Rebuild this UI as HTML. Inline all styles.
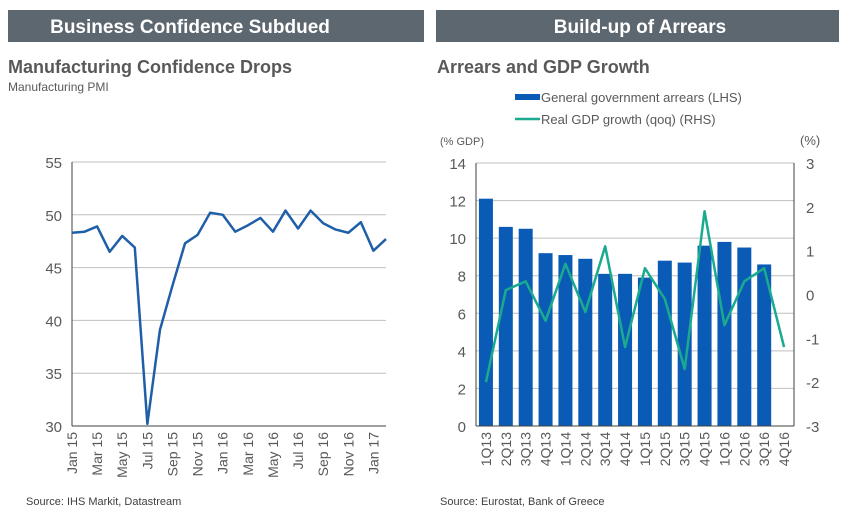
<!DOCTYPE html>
<html><head><meta charset="utf-8"><style>
body{margin:0;background:#fff;width:846px;height:517px;overflow:hidden;font-family:"Liberation Sans",sans-serif}
svg{display:block}
</style></head><body>
<svg id="s" width="846" height="517" xmlns="http://www.w3.org/2000/svg">
<rect x="8" y="10" width="416" height="32" fill="#5d6770"/>
<text x="190" y="33" text-anchor="middle" font-size="19" font-weight="bold" fill="#fff">Business Confidence Subdued</text>
<rect x="436" y="10" width="403" height="32" fill="#5d6770"/>
<text x="640" y="33" text-anchor="middle" font-size="19" font-weight="bold" fill="#fff">Build-up of Arrears</text>
<text x="8" y="73" font-size="18" font-weight="bold" fill="#595959">Manufacturing Confidence Drops</text>
<text x="8" y="91" font-size="12" fill="#595959">Manufacturing PMI</text>
<text x="437" y="73" font-size="18" font-weight="bold" fill="#595959">Arrears and GDP Growth</text>
<rect x="515" y="94" width="25" height="6" fill="#0a5bb5"/>
<text x="541" y="102" font-size="13" fill="#595959">General government arrears (LHS)</text>
<line x1="515" y1="119" x2="540" y2="119" stroke="#1aaa8f" stroke-width="2.5"/>
<text x="541" y="124" font-size="13" fill="#595959">Real GDP growth (qoq) (RHS)</text>
<text x="440" y="145" font-size="11" fill="#595959">(% GDP)</text>
<text x="800" y="145" font-size="13" fill="#595959">(%)</text>
<text x="26" y="505" font-size="11" fill="#404040">Source: IHS Markit, Datastream</text>
<text x="440" y="505" font-size="11" fill="#404040">Source: Eurostat, Bank of Greece</text>
<g id="L"></g><g id="R"></g>
</svg>
<script>
const pmiMonths=["Jan 15","Feb 15","Mar 15","Apr 15","May 15","Jun 15","Jul 15","Aug 15","Sep 15","Oct 15","Nov 15","Dec 15","Jan 16","Feb 16","Mar 16","Apr 16","May 16","Jun 16","Jul 16","Aug 16","Sep 16","Oct 16","Nov 16","Dec 16","Jan 17","Feb 17"];
const pmiValues=[48.3,48.4,48.9,46.5,48.0,46.9,30.2,39.1,43.3,47.3,48.1,50.2,50.0,48.4,49.0,49.7,48.4,50.4,48.7,50.4,49.2,48.6,48.3,49.3,46.6,47.7];
const pmiTicks=[30,35,40,45,50,55];
const quarters=["1Q13","2Q13","3Q13","4Q13","1Q14","2Q14","3Q14","4Q14","1Q15","2Q15","3Q15","4Q15","1Q16","2Q16","3Q16","4Q16"];
const arrears=[12.1,10.6,10.5,9.2,9.1,8.9,8.1,8.1,7.9,8.8,8.7,9.6,9.8,9.5,8.6,null];
const gdpGrowth=[-2.0,0.1,0.3,-0.6,0.7,-0.4,1.1,-1.2,0.6,-0.1,-1.7,1.9,-0.7,0.3,0.6,-1.2];
const leftTicks=[0,2,4,6,8,10,12,14];
const rightTicks=[-3,-2,-1,0,1,2,3];
const NS="http://www.w3.org/2000/svg";
function mk(p,t,a,txt){const e=document.createElementNS(NS,t);for(const k in a)e.setAttribute(k,a[k]);if(txt!=null)e.textContent=txt;p.appendChild(e);return e;}
const L=document.getElementById('L');
const lx0=72,lx1=386,ly0=426,ly1=162;
const lx=i=>lx0+i*(lx1-lx0)/(pmiMonths.length-1);
const ly=v=>ly0-(v-30)/25*(ly0-ly1);
pmiTicks.forEach(t=>{
 if(t>30){const g=mk(L,'line',{x1:lx0,x2:lx1,y1:ly(t),y2:ly(t),stroke:'#bfbfbf','stroke-width':1});
 
 }
 const tx=mk(L,'text',{x:lx0-10,y:ly(t)+6,'text-anchor':'end','font-size':15,fill:'#595959'},t);
 
 
});
let a1=mk(L,'line',{x1:lx0,x2:lx0,y1:ly1,y2:ly0,stroke:'#404040'});

let a2=mk(L,'line',{x1:lx0,x2:lx1,y1:ly0,y2:ly0,stroke:'#404040'});

pmiMonths.forEach((m,i)=>{if(i%2)return;
 const x=lx(i);const t=mk(L,'text',{transform:`translate(${x+5},${ly0+6}) rotate(-90)`,'text-anchor':'end','font-size':14,fill:'#595959'},m);
 
 
});
const pl=mk(L,'polyline',{points:pmiValues.map((v,i)=>lx(i)+','+ly(v)).join(' '),fill:'none',stroke:'#1f5fa8','stroke-width':2.5,'stroke-linejoin':'round'});


const R=document.getElementById('R');
const rx0=476,rx1=794,ry0=426,ry1=163;
const cw=(rx1-rx0)/quarters.length;
const cx=i=>rx0+cw*(i+0.5);
const yl=v=>ry0-v/14*(ry0-ry1);
const yr=v=>ry0-(v+3)/6*(ry0-ry1);
leftTicks.forEach(t=>{
 if(t>0){const g=mk(R,'line',{x1:rx0,x2:rx1,y1:yl(t),y2:yl(t),stroke:'#bfbfbf'});
 
 }
 const tx=mk(R,'text',{x:rx0-10,y:yl(t)+6,'text-anchor':'end','font-size':15,fill:'#595959'},t);
 
 
});
rightTicks.forEach(t=>{
 const tx=mk(R,'text',{x:rx1+12,y:yr(t)+6,'text-anchor':'start','font-size':15,fill:'#595959'},t);
 
 
});
arrears.forEach((v,i)=>{if(v==null)return;
 const b=mk(R,'rect',{x:cx(i)-7,y:yl(v),width:14,height:ry0-yl(v),fill:'#0a5bb5'});
 
 
});
let a3=mk(R,'line',{x1:rx0,x2:rx0,y1:ry1,y2:ry0,stroke:'#404040'});

let a4=mk(R,'line',{x1:rx1,x2:rx1,y1:ry1,y2:ry0,stroke:'#404040'});

let a5=mk(R,'line',{x1:rx0,x2:rx1,y1:ry0,y2:ry0,stroke:'#404040'});

quarters.forEach((q,i)=>{
 const t=mk(R,'text',{transform:`translate(${cx(i)+5},${ry0+6}) rotate(-90)`,'text-anchor':'end','font-size':14,fill:'#595959'},q);
 
 
});
const gl=mk(R,'polyline',{points:gdpGrowth.map((v,i)=>cx(i)+','+yr(v)).join(' '),fill:'none',stroke:'#1aaa8f','stroke-width':2.5,'stroke-linejoin':'round'});


</script>
</body></html>
